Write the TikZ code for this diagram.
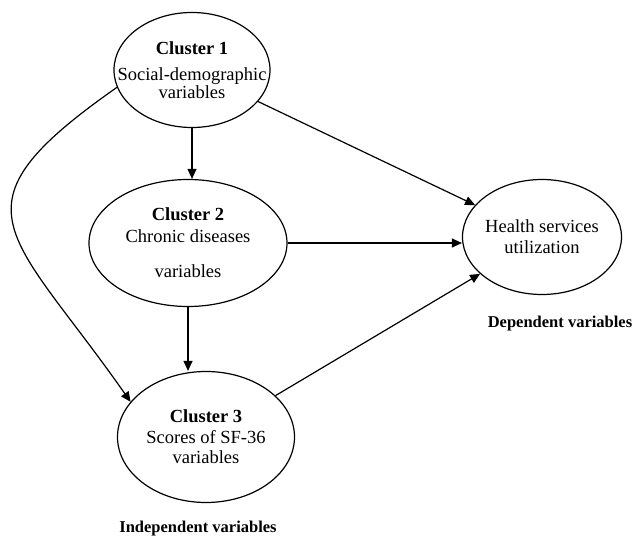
\documentclass[tikz,border=0pt]{standalone}
\usepackage{fontspec}
\setmainfont{Liberation Serif}
\usetikzlibrary{arrows.meta, shapes.geometric, positioning}

\begin{document}
\begin{tikzpicture}[
        x=1pt, y=-1pt,
        every node/.style={font=\fontsize{18.5}{21}\selectfont},
        cl/.style={draw, ellipse, line width=1.2pt, inner sep=0pt},
        txt/.style={align=center, inner sep=0pt},
        lbl/.style={font=\fontsize{16.5}{19}\selectfont\bfseries, inner sep=0pt},
        arr/.style={-{Triangle[length=10pt, width=9pt]}, line width=1.2pt}
    ]
        \useasboundingbox (0,0) rectangle (633,540);

        \node[cl, minimum width=156pt, minimum height=115pt,
            label={[txt]center:{\textbf{Cluster 1}\\[5.5pt]Social-demographic\\[-3.3pt]variables}}] (c1) at (192,70) {};
        \node[cl, minimum width=198pt, minimum height=127pt,
            label={[txt]center:{\textbf{Cluster 2}\\[1pt]Chronic diseases\\[14pt]variables}}] (c2) at (188,243) {};
        \node[cl, minimum width=177pt, minimum height=131pt,
            label={[txt]center:{\textbf{Cluster 3}\\Scores of SF-36\\[-1pt]variables}}] (c3) at (206,437) {};
        \node[cl, minimum width=159pt, minimum height=115pt,
            label={[txt]center:{Health services\\utilization}}] (hsu) at (542,237) {};

        \node[lbl, below=21pt of hsu, xshift=18pt] (dep) {Dependent variables};
        \node[lbl, below=18pt of c3, xshift=-8pt] (indep) {Independent variables};

        \draw[arr] (c1.south) -- (c1.south |- c2.north);
        \draw[arr] (c2.south) -- (c2.south |- c3.north);
        \draw[arr] (c1) -- (hsu);
        \draw[arr] (c2.east) -- (c2.east -| hsu.west);
        \draw[arr] (c3) -- (hsu);
        \draw[arr] (c1.193) to[out=215, in=125, distance=211pt] (c3.155);
    \end{tikzpicture}
\end{document}
